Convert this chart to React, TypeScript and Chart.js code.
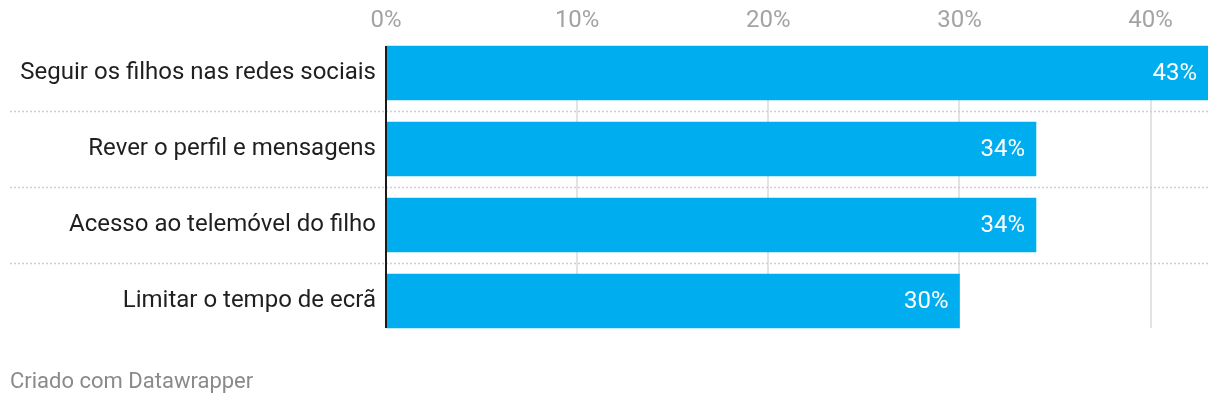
import React, { useEffect, useRef } from "react";
import { Chart, registerables } from "chart.js";

Chart.register(...registerables);

const categories = [
  "Seguir os filhos nas redes sociais",
  "Rever o perfil e mensagens",
  "Acesso ao telemóvel do filho",
  "Limitar o tempo de ecrã",
];
const values = [43, 34, 34, 30];
const tickValues = [0, 10, 20, 30, 40];
const footerText = "Criado com Datawrapper";

const FONT = "Roboto, 'Noto Sans', sans-serif";
const BAR_COLOR = "#00aeef";

const decorPlugin = {
  id: "decor",
  beforeDatasetsDraw(chart: any) {
    const { ctx, chartArea } = chart;
    const x = chart.scales.x;
    const y = chart.scales.y;
    const meta = chart.getDatasetMeta(0);
    const first = meta.data[0];
    const last = meta.data[meta.data.length - 1];
    const top = first.y - first.height / 2;
    const bottom = last.y + last.height / 2;
    ctx.save();
    // vertical gridlines
    ctx.strokeStyle = "#e3e3e3";
    ctx.lineWidth = 2;
    tickValues.forEach((v) => {
      if (v === 0) return;
      const px = Math.round(x.getPixelForValue(v));
      ctx.beginPath();
      ctx.moveTo(px, top);
      ctx.lineTo(px, bottom);
      ctx.stroke();
    });
    // dotted row separators
    ctx.strokeStyle = "#cfcfcf";
    ctx.lineWidth = 1.5;
    ctx.setLineDash([2, 2]);
    for (let i = 0; i < categories.length - 1; i++) {
      const yy = Math.round((y.getPixelForValue(i) + y.getPixelForValue(i + 1)) / 2) + 0.5;
      ctx.beginPath();
      ctx.moveTo(10, yy);
      ctx.lineTo(chartArea.right, yy);
      ctx.stroke();
    }
    ctx.restore();
  },
  afterDatasetsDraw(chart: any) {
    const { ctx } = chart;
    const x = chart.scales.x;
    const meta = chart.getDatasetMeta(0);
    const first = meta.data[0];
    const last = meta.data[meta.data.length - 1];
    const top = first.y - first.height / 2;
    const bottom = last.y + last.height / 2;
    ctx.save();
    // zero line
    ctx.strokeStyle = "#1a1a1a";
    ctx.lineWidth = 2;
    const zx = Math.round(x.getPixelForValue(0));
    ctx.beginPath();
    ctx.moveTo(zx, top);
    ctx.lineTo(zx, bottom);
    ctx.stroke();
    // value labels
    ctx.fillStyle = "#ffffff";
    ctx.font = `24px ${FONT}`;
    ctx.textAlign = "right";
    ctx.textBaseline = "middle";
    meta.data.forEach((bar: any, i: number) => {
      ctx.fillText(`${values[i]}%`, bar.x - 11, bar.y + 1);
    });
    ctx.restore();
  },
};

export default function App() {
  const ref = useRef<HTMLCanvasElement | null>(null);

  useEffect(() => {
    document.body.style.margin = "0";
    if (!ref.current) return;
    const chart = new Chart(ref.current, {
      type: "bar",
      data: {
        labels: categories,
        datasets: [
          {
            data: values,
            backgroundColor: BAR_COLOR,
            borderWidth: 0,
            barThickness: 54,
          },
        ],
      },
      options: {
        indexAxis: "y",
        responsive: false,
        animation: false,
        layout: { padding: { left: 0, right: 12, top: 0, bottom: 65 } },
        plugins: {
          legend: { display: false },
          tooltip: { enabled: false },
        },
        scales: {
          x: {
            position: "top",
            min: 0,
            max: 43,
            grid: { display: false, drawTicks: false },
            border: { display: false },
            afterFit: (s: any) => {
              s.height = 35;
            },
            afterBuildTicks: (s: any) => {
              s.ticks = tickValues.map((v) => ({ value: v }));
            },
            ticks: {
              padding: 0,
              color: "#a3a3a3",
              font: { family: FONT, size: 24 },
              callback: (v: any) => `${v}%`,
            },
          },
          y: {
            grid: { display: false, drawTicks: false },
            border: { display: false },
            afterFit: (s: any) => {
              s.width = 386;
            },
            ticks: {
              padding: 10,
              color: "#1f1f1f",
              font: { family: FONT, size: 24 },
            },
          },
        },
      },
      plugins: [decorPlugin],
    });
    return () => chart.destroy();
  }, []);

  return (
    <div style={{ position: "relative", width: 1220, height: 404 }}>
      <canvas ref={ref} width={1220} height={404} style={{ display: "block" }} />
      <div
        style={{
          position: "absolute",
          left: 10,
          top: 367,
          fontFamily: FONT,
          fontSize: 22,
          lineHeight: "28px",
          color: "#8a8a8a",
          whiteSpace: "nowrap",
        }}
      >
        {footerText}
      </div>
    </div>
  );
}
